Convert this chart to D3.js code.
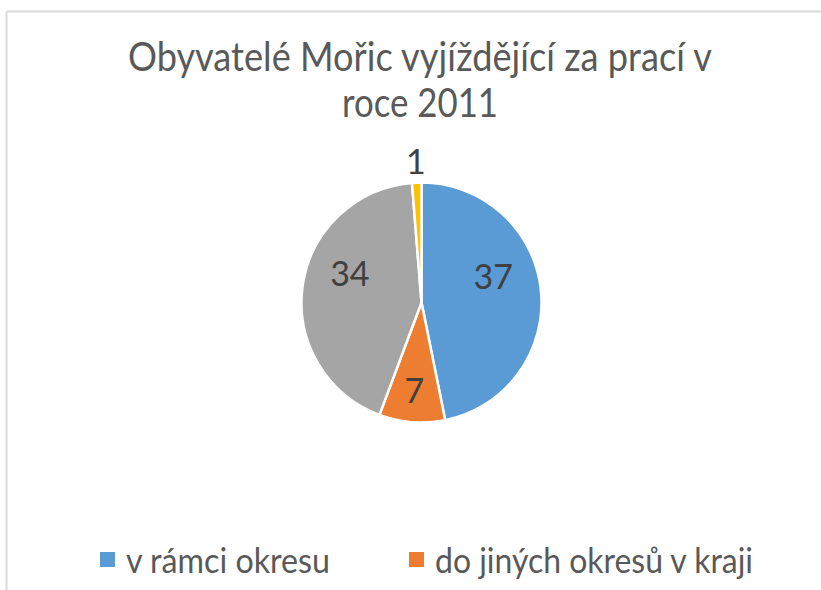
<!DOCTYPE html>
<html><head><meta charset="utf-8">
<script src="https://cdn.jsdelivr.net/npm/d3@7"></script>
<style>body{margin:0;background:#fff;}svg{display:block;}</style>
</head><body>
<svg id="c" width="821" height="590"></svg>
<script>
const titleLines = ["Obyvatelé Mořic vyjíždějící za prací v", "roce 2011"];
const categories = ["v rámci okresu", "do jiných okresů v kraji", "do jiných krajů", "do zahraničí"];
const values = [37, 7, 34, 1];
const colors = ["#5B9BD5", "#ED7D31", "#A5A5A5", "#FFC000"];
const legendShown = ["v rámci okresu", "do jiných okresů v kraji"];

const svg = d3.select("#c");
const font = "Lato, 'Open Sans', sans-serif";

// frame
svg.append("line").attr("x1",6.5).attr("x2",821).attr("y1",11.5).attr("y2",11.5).attr("stroke","#d9d9d9").attr("stroke-width",2);
svg.append("line").attr("x1",6.5).attr("x2",6.5).attr("y1",11.5).attr("y2",590).attr("stroke","#d9d9d9").attr("stroke-width",2);

// title
const titleW = [584, 156];
svg.append("g").selectAll("text").data(titleLines).join("text")
  .attr("x",420).attr("y",(d,i)=>71+i*46)
  .attr("text-anchor","middle").attr("font-family",font).attr("font-size",40)
  .attr("textLength",(d,i)=>titleW[i]).attr("lengthAdjust","spacingAndGlyphs")
  .attr("fill","#595959").text(d=>d);

const cx = 421.5, cy = 302.5, r = 120;
const pie = d3.pie().sort(null).value(d=>d.v);
const data = pie(values.map((v,i)=>({v, c:categories[i], col:colors[i]})));
const arc = d3.arc().innerRadius(0).outerRadius(r);
const g = svg.append("g").attr("transform",`translate(${cx},${cy})`);
g.selectAll("path").data(data).join("path")
  .attr("d",arc).attr("fill",d=>d.data.col).attr("stroke","#fff").attr("stroke-width",2.5).attr("stroke-linejoin","round");

function labelPos(d){
  const mid = (d.startAngle+d.endAngle)/2;
  const s = Math.sin(mid), c = Math.cos(mid);
  if (d.endAngle-d.startAngle < 0.2) {
    const k = 1.17*r;
    return [s*k, -c*k];
  }
  const k = r*(0.6 + 0.15*c*c);
  return [s*k, -c*k - 19*Math.abs(s)];
}
g.selectAll("text").data(data).join("text")
  .attr("transform",d=>{const p=labelPos(d);return `translate(${p[0]},${p[1]})`;})
  .attr("text-anchor","middle").attr("dy","0.36em")
  .attr("font-family",font).attr("font-size",34).attr("fill","#404040")
  .text(d=>d.data.v);

// legend
const leg = svg.append("g");
const legX = [100, 409];
const legW = [204, 318];
legendShown.forEach((name,i)=>{
  const idx = categories.indexOf(name);
  leg.append("rect").attr("x",legX[i]).attr("y",552).attr("width",15).attr("height",15).attr("fill",colors[idx]);
  leg.append("text").attr("x",legX[i]+26).attr("y",573).attr("font-family",font).attr("font-size",34)
    .attr("textLength",legW[i]).attr("lengthAdjust","spacingAndGlyphs")
    .attr("fill","#595959").text(name);
});
</script>
</body></html>
